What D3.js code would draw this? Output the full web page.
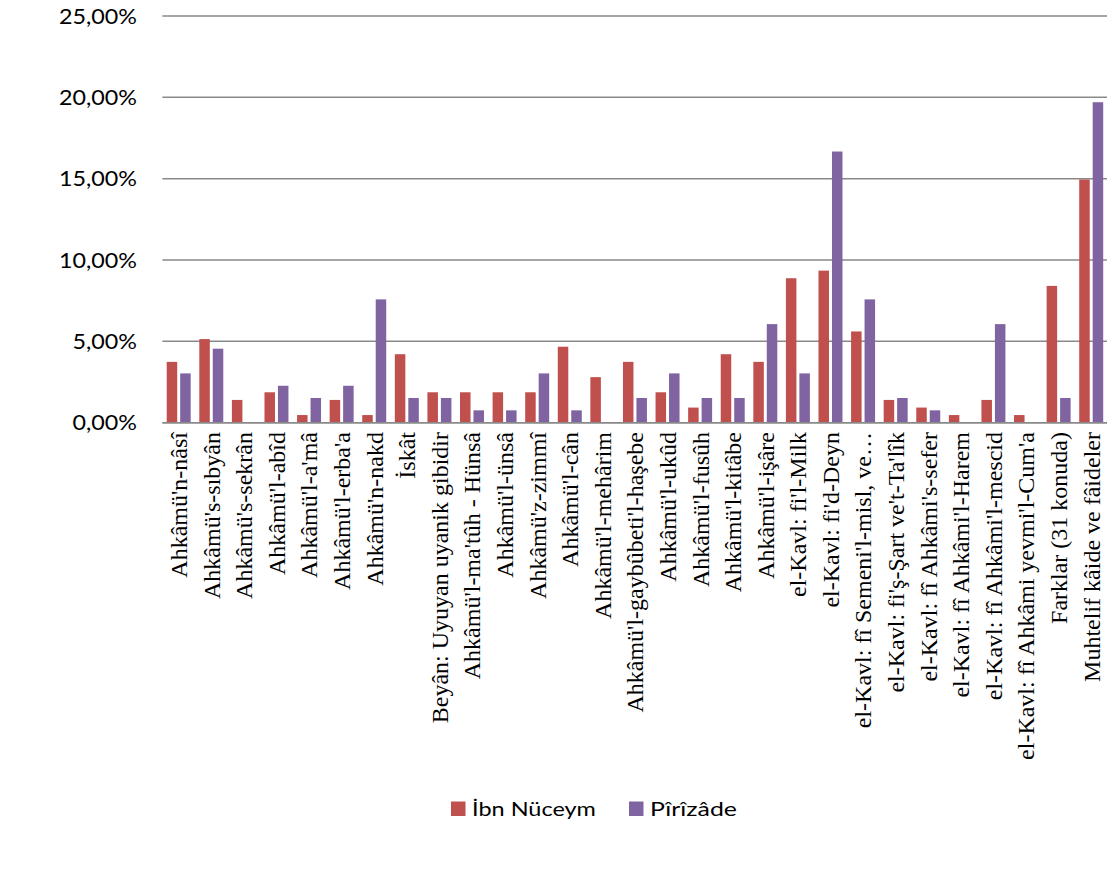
<!DOCTYPE html>
<html>
<head>
<meta charset="utf-8">
<script src="https://cdnjs.cloudflare.com/ajax/libs/d3/7.8.5/d3.min.js"></script>
<style>
  html, body { margin: 0; padding: 0; background: #ffffff; }
  svg { display: block; }
</style>
</head>
<body>
<svg id="chart" width="1107" height="884"></svg>
<script>
// ---- data ----
const categories = [
  "Ahkâmü'n-nâsî",
  "Ahkâmü's-sıbyân",
  "Ahkâmü's-sekrân",
  "Ahkâmü'l-abîd",
  "Ahkâmü'l-a'mâ",
  "Ahkâmü'l-erba'a",
  "Ahkâmü'n-nakd",
  "İskât",
  "Beyân: Uyuyan uyanik gibidir",
  "Ahkâmü'l-ma'tûh - Hünsâ",
  "Ahkâmü'l-ünsâ",
  "Ahkâmü'z-zimmî",
  "Ahkâmü'l-cân",
  "Ahkâmü'l-mehârim",
  "Ahkâmü'l-gaybûbeti'l-haşebe",
  "Ahkâmü'l-ukûd",
  "Ahkâmü'l-fusûh",
  "Ahkâmü'l-kitâbe",
  "Ahkâmü'l-işâre",
  "el-Kavl: fi'l-Milk",
  "el-Kavl: fi'd-Deyn",
  "el-Kavl: fî Semeni'l-misl, ve…",
  "el-Kavl: fi'ş-Şart ve't-Ta'lîk",
  "el-Kavl: fî Ahkâmi's-sefer",
  "el-Kavl: fî Ahkâmi'l-Harem",
  "el-Kavl: fî Ahkâmi'l-mescid",
  "el-Kavl: fî Ahkâmi yevmi'l-Cum'a",
  "Farklar (31 konuda)",
  "Muhtelif kâide ve fâideler"
];
const seriesNames = ["İbn Nüceym", "Pîrîzâde"];
const ibnNuceym = [3.74, 5.14, 1.40, 1.87, 0.47, 1.40, 0.47, 4.21, 1.87, 1.87,
                   1.87, 1.87, 4.67, 2.80, 3.74, 1.87, 0.93, 4.21, 3.74, 8.88,
                   9.35, 5.61, 1.40, 0.93, 0.47, 1.40, 0.47, 8.41, 14.95];
const pirizade  = [3.03, 4.55, 0.00, 2.27, 1.52, 2.27, 7.58, 1.52, 1.52, 0.76,
                   0.76, 3.03, 0.76, 0.00, 1.52, 3.03, 1.52, 1.52, 6.06, 3.03,
                   16.67, 7.58, 1.52, 0.76, 0.00, 6.06, 0.00, 1.52, 19.70];
const yTicks = [0, 5, 10, 15, 20, 25];
const colors = ["#C0504D", "#8064A2"];

// ---- layout ----
const svg = d3.select("#chart");
const W = 1107, H = 884;
svg.append("rect").attr("width", W).attr("height", H).attr("fill", "#ffffff");

const plot = { left: 162.4, right: 1107.5, top: 16, bottom: 422.7 };

const x0 = d3.scaleBand().domain(categories).range([plot.left, plot.right]).paddingInner(0).paddingOuter(0);
const bw = x0.bandwidth();
const x1 = d3.scaleBand().domain(seriesNames).range([bw * 0.132, bw * 0.868]).paddingInner(0.22);
const y = d3.scaleLinear().domain([0, 25]).range([plot.bottom, plot.top]);

const trLocale = d3.formatLocale({ decimal: ",", thousands: ".", grouping: [3], currency: ["", "₺"], percent: "%" });
const fmt = trLocale.format(".2%");

// gridlines
const grid = svg.append("g");
grid.selectAll("line").data(yTicks).join("line")
  .attr("x1", plot.left).attr("x2", W)
  .attr("y1", d => y(d)).attr("y2", d => y(d))
  .attr("stroke", "#898989").attr("stroke-width", 1.5);

// y tick labels
const yLab = svg.append("g");
const yTexts = yLab.selectAll("text").data(yTicks).join("text")
  .attr("text-anchor", "end")
  .attr("dy", "0.35em")
  .attr("font-family", "Lato, 'Open Sans', sans-serif")
  .attr("font-size", 22)
  .attr("fill", "#000")
  .text(d => fmt(d / 100));
// stretch to reference width ("25,00%" ≈ 78px wide)
const refLen = yTexts.filter(d => d === 25).node().getComputedTextLength();
const sx = 78 / refLen;
yTexts.attr("transform", d => `translate(137,${y(d)}) scale(${sx},1)`);

// bars
const rows = categories.map((c, i) => ({ cat: c, vals: [ibnNuceym[i], pirizade[i]] }));
const groups = svg.append("g").selectAll("g").data(rows).join("g")
  .attr("transform", d => `translate(${x0(d.cat)},0)`);
groups.selectAll("rect").data(d => d.vals.map((v, k) => ({ s: seriesNames[k], v, k })))
  .join("rect")
  .attr("x", d => x1(d.s))
  .attr("width", x1.bandwidth())
  .attr("y", d => y(d.v))
  .attr("height", d => y(0) - y(d.v))
  .attr("fill", d => colors[d.k]);

// redraw baseline on top
svg.append("line")
  .attr("x1", plot.left).attr("x2", W)
  .attr("y1", y(0)).attr("y2", y(0))
  .attr("stroke", "#898989").attr("stroke-width", 1.5);

// category labels (rotated)
svg.append("g").selectAll("text").data(categories).join("text")
  .attr("transform", d => `translate(${x0(d) + bw / 2},432) rotate(-90)`)
  .attr("text-anchor", "end")
  .attr("dy", "0.35em")
  .attr("font-family", "'Liberation Serif', 'Times New Roman', serif")
  .attr("font-size", 24)
  .attr("fill", "#000")
  .text(d => d);

// legend
const legend = svg.append("g");
const legendX = [451, 629];
const legendTextTarget = [124, 87];
seriesNames.forEach((s, k) => {
  legend.append("rect")
    .attr("x", legendX[k]).attr("y", 801.5)
    .attr("width", 14.5).attr("height", 14.5)
    .attr("fill", colors[k]);
  const t = legend.append("text")
    .attr("font-family", "Lato, 'Open Sans', sans-serif")
    .attr("font-size", 20)
    .attr("fill", "#000")
    .text(s);
  const len = t.node().getComputedTextLength();
  t.attr("transform", `translate(${legendX[k] + 21},816) scale(${legendTextTarget[k] / len},1)`);
});
</script>
</body>
</html>
